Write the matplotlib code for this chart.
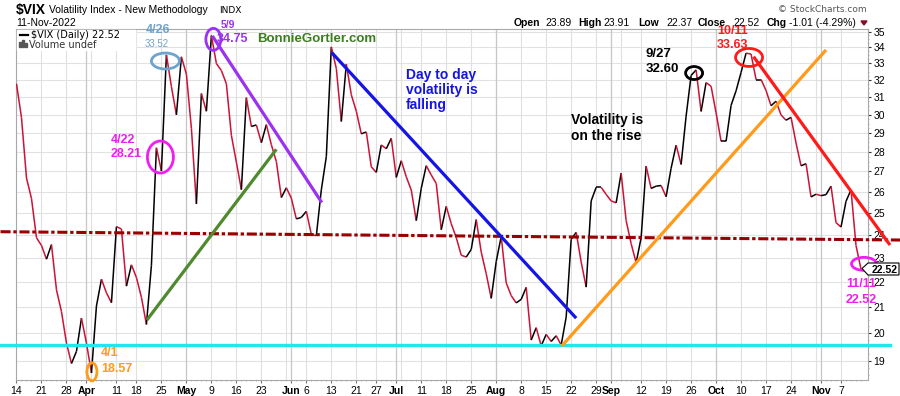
import numpy as np
import pandas as pd
import matplotlib
matplotlib.use("Agg")
import matplotlib.pyplot as plt
from matplotlib.collections import LineCollection
from matplotlib.patches import Ellipse, Rectangle, Polygon
from matplotlib.ticker import FixedLocator, NullFormatter
from matplotlib.transforms import IdentityTransform

W, H = 900, 396

HOLIDAYS = ["2022-04-15", "2022-05-30", "2022-06-20", "2022-07-04", "2022-09-05"]
days = pd.bdate_range("2022-03-14", "2022-11-11")
days = days[~days.isin(pd.to_datetime(HOLIDAYS))]

# daily closes (Mar 14 .. Nov 11 2022)
close = [
    31.77, 29.83, 26.67, 25.67, 23.87,
    23.53, 22.94, 23.57, 21.67, 20.81,
    19.63, 18.90, 19.33, 20.56, 19.63,
    18.57, 21.03, 22.10, 21.55, 21.16,
    24.37, 24.26, 21.82, 22.70,
    22.17, 21.37, 20.32, 22.68, 28.21,
    27.02, 33.52, 31.60, 29.99, 33.40,
    32.34, 29.25, 25.42, 31.20, 30.19,
    34.75, 32.99, 32.56, 31.77, 28.87,
    27.47, 26.10, 30.96, 29.35, 29.43,
    28.48, 29.45, 28.37, 27.50, 25.72,
    26.19, 25.69, 24.72, 24.79,
    25.07, 24.02, 23.96, 26.09, 27.75,
    34.02, 32.69, 29.62, 32.95, 31.13,
    30.19, 28.95, 29.05, 27.23,
    26.95, 28.36, 28.16, 28.71, 26.70,
    27.54, 26.73, 26.08, 24.64,
    26.17, 27.29, 26.82, 26.40, 24.23,
    25.30, 24.50, 23.88, 23.11, 23.03,
    23.36, 24.69, 23.24, 22.33, 21.33,
    22.84, 23.93, 21.95, 21.44, 21.15,
    21.29, 21.77, 19.74, 20.20, 19.53,
    19.95, 19.69, 19.90, 19.56, 20.60,
    23.80, 24.11, 22.82, 21.78, 25.56,
    26.21, 26.21, 25.87, 25.56, 25.47,
    26.91, 24.64, 23.61, 22.79,
    23.87, 27.27, 26.16, 26.27, 26.30,
    25.76, 27.16, 28.35, 27.35, 29.92,
    32.26, 32.60, 30.18, 31.84, 31.62,
    30.10, 28.55, 28.55, 30.52, 31.36,
    32.45, 33.63, 33.57, 32.02, 32.02,
    31.37, 30.50, 30.76, 29.98, 29.69,
    29.85, 28.46, 27.28, 27.39, 25.75,
    25.88, 25.81, 25.86, 26.27, 24.55,
    24.35, 25.54, 26.09, 23.53, 22.52,
]

tick_dates = ["2022-03-14", "2022-03-21", "2022-03-28", "2022-04-01", "2022-04-11",
              "2022-04-18", "2022-04-25", "2022-05-02", "2022-05-09", "2022-05-16",
              "2022-05-23", "2022-06-01", "2022-06-06", "2022-06-13", "2022-06-21",
              "2022-06-27", "2022-07-01", "2022-07-11", "2022-07-18", "2022-07-25",
              "2022-08-01", "2022-08-08", "2022-08-15", "2022-08-22", "2022-08-29",
              "2022-09-01", "2022-09-12", "2022-09-19", "2022-09-26", "2022-10-03",
              "2022-10-10", "2022-10-17", "2022-10-24", "2022-11-01", "2022-11-07"]
tick_labels = ["14", "21", "28", "Apr", "11", "18", "25", "May", "9", "16", "23",
               "Jun", "6", "13", "21", "27", "Jul", "11", "18", "25", "Aug", "8",
               "15", "22", "29", "Sep", "12", "19", "26", "Oct", "10", "17", "24",
               "Nov", "7"]
y_ticks = list(range(19, 36))

# trend lines: (start idx, start value, end idx, end value, colour)
trends = {
    "green":  (26.1, 20.49, 52.0, 28.13, "#4f8a2f"),
    "purple": (39.2, 34.72, 61.1, 25.48, "#9a32f0"),
    "blue":   (63.1, 33.66, 112.0, 20.56, "#1414e6"),
    "orange": (109.1, 19.52, 162.0, 33.83, "#ff9a1a"),
    "red":    (147.5, 33.41, 174.8, 23.55, "#ff1a1a"),
}
support = 19.56
resist = (24.14, 23.77)

# circled points: idx, value, width px, height px, colour
circles = [
    (29.8, 33.14, 28, 16, "#6fa3cf"),
    (28.8, 27.73, 26, 32, "#f01ef0"),
    (39.4, 34.50, 15, 22, "#9a32f0"),
    (135.6, 32.41, 17, 13, "black"),
    (146.6, 33.36, 27, 18, "#ff1a1a"),
    (169.6, 22.74, 25, 13, "#f01ef0"),
    (15.1, 18.61, 10, 18, "#ff9a1a"),
]

idx = np.arange(len(close))
date_idx = {d.strftime("%Y-%m-%d"): i for i, d in enumerate(days)}
close = np.array(close)


def fx(x):
    return x / W


def fy(y):
    return 1 - y / H


fig = plt.figure(figsize=(W / 100, H / 100), dpi=100)
fig.patch.set_facecolor("white")
ax = fig.add_axes([fx(16), fy(380), (868 - 16) / W, (380 - 29) / H])
ax.set_yscale("log")
ax.set_xlim(-0.1, 170.4)
ax.set_ylim(18.33, 35.17)

# grid
for v in y_ticks:
    ax.axhline(v, color="#e2e2e2", lw=0.8, zorder=0)
week_start = [i for i in range(len(days)) if i == 0 or days[i].weekday() <= days[i - 1].weekday()]
month_start = [i for i in range(1, len(days)) if days[i].month != days[i - 1].month]
for i in week_start:
    ax.axvline(i, color="#e0e0e0", lw=0.8, zorder=0)
for i in month_start:
    ax.axvline(i, color="#c6c6c6", lw=0.9, zorder=0)

for s in ax.spines.values():
    s.set_color("#a8a8a8")
    s.set_linewidth(0.8)

# price line, black up / red down
pts = np.column_stack([idx, close])
segs = [pts[i:i + 2] for i in range(len(pts) - 1)]
cols = ["black" if close[i + 1] >= close[i] else "#cc1236" for i in range(len(close) - 1)]
ax.add_collection(LineCollection(segs, colors=cols, linewidths=1.1, zorder=3))

# horizontal levels
ax.plot([-3.2, 174.8], [support, support], color="#22e5ee", lw=2.4, zorder=4, clip_on=False)
ax.plot([-3.2, 176.8], list(resist), color="#990000", lw=2.2, zorder=4, clip_on=False,
        dashes=(3.3, 0.9, 1.1, 0.9))

for x0, y0, x1, y1, c in trends.values():
    ax.plot([x0, x1], [y0, y1], color=c, lw=2.3, zorder=5, clip_on=False,
            solid_capstyle="butt")

# ticks
ax.yaxis.tick_right()
ax.yaxis.set_major_locator(FixedLocator(y_ticks))
ax.yaxis.set_minor_locator(FixedLocator(np.arange(18.5, 35.2, 0.25)))
ax.yaxis.set_minor_formatter(NullFormatter())
ax.set_yticklabels([str(v) for v in y_ticks])
ax.tick_params(axis="y", which="major", length=2, pad=2, labelsize=7.5, colors="#333333",
               labelcolor="black")
ax.tick_params(axis="y", which="minor", length=1, colors="#999999")

xt = [date_idx[d] for d in tick_dates]
ax.set_xticks(xt)
ax.set_xticklabels(tick_labels)
ax.xaxis.set_minor_locator(FixedLocator(idx))
ax.tick_params(axis="x", which="major", length=2, pad=2, labelsize=7.5, colors="#777777",
               labelcolor="black")
ax.tick_params(axis="x", which="minor", length=1, colors="#aaaaaa")
for lab in ax.get_xticklabels() + ax.get_yticklabels():
    lab.set_family("Liberation Sans")
for lab in ax.get_xticklabels():
    if lab.get_text().isalpha():
        lab.set_fontweight("bold")

# circles, sized in pixels
for i, v, w, h, c in circles:
    cx, cy = ax.transData.transform((i, v))
    fig.add_artist(Ellipse((cx, cy), w, h, transform=IdentityTransform(), fill=False,
                           edgecolor=c, lw=2.0, zorder=6))

AF = "Liberation Sans"


def note(x, y, s, c, size=9, ha="left", weight="bold", family=AF, z=7):
    fig.text(fx(x), fy(y), s, color=c, fontsize=size, ha=ha, va="baseline",
             fontweight=weight, family=family, zorder=z)


note(158, 33, "4/26", "#6fa3cf", size=9, ha="center")
note(157, 47, "33.52", "#6fa3cf", size=7, ha="center", weight="normal")
note(228, 28, "5/9", "#9a32f0", size=7.5, ha="center")
note(217, 42, "34.75", "#9a32f0", size=9)
note(257, 42, "BonnieGortler.com", "#3b7d1f", size=9.5)
note(111, 143, "4/22", "#f01ef0")
note(111, 157, "28.21", "#f01ef0")
note(406, 79, "Day to day", "#1414e6", size=10)
note(406, 94, "volatility is", "#1414e6", size=10)
note(406, 109, "falling", "#1414e6", size=10)
note(571, 124, "Volatility is", "black", size=10)
note(571, 140, "on the rise", "black", size=10)
note(646, 57, "9/27", "black", size=9.5)
note(646, 72, "32.60", "black", size=9.5)
note(717, 33.5, "10/11", "#ff1a1a", size=9)
note(717, 47.5, "33.63", "#ff1a1a", size=9)
note(846, 287, "11/11", "#f01ef0")
note(846, 303, "22.52", "#f01ef0")
note(101, 356, "4/1", "#ff9a1a")
note(101, 372, "18.57", "#ff9a1a")

# header
note(16, 14, "$VIX", "black", size=10)
note(49, 13, "Volatility Index - New Methodology", "black", size=7.5, weight="normal")
note(219, 13, "INDX", "black", size=6.5, weight="normal", family="DejaVu Sans")
note(16, 26, "11-Nov-2022", "black", size=7.5, weight="normal")
note(867, 12, "\u00a9 StockCharts.com", "#555555", size=6.5, ha="right", weight="normal",
     family="DejaVu Sans")
hdr = [(514, "Open", "bold"), (545.7, "23.89", "normal"), (578.3, "High", "bold"),
       (603, "23.91", "normal"), (638, "Low", "bold"), (666, "22.37", "normal"),
       (698, "Close", "bold"), (733, "22.52", "normal"), (766.7, "Chg", "bold"),
       (789, "-1.01 (-4.29%)", "normal")]
for x, s, wt in hdr:
    note(x, 26, s, "black", size=7.5, weight=wt)
fig.add_artist(Polygon([[fx(861), fy(21)], [fx(867), fy(21)], [fx(864), fy(25)]],
                       closed=True, color="#8b0a2a", transform=fig.transFigure))

# legend block
fig.add_artist(Rectangle((fx(17), fy(50)), (135 - 17) / W, (50 - 30) / H,
                         transform=fig.transFigure, color="white", zorder=6))
fig.add_artist(plt.Line2D([fx(20), fx(28)], [fy(35), fy(35)], color="black", lw=1.6,
                          transform=fig.transFigure, zorder=7))
note(31, 38.5, "$VIX (Daily) 22.52", "black", size=7, weight="normal", family="DejaVu Sans")
for k, hh in enumerate([5, 7, 4]):
    fig.add_artist(Rectangle((fx(19 + k * 3), fy(47)), 2 / W, hh / H,
                             transform=fig.transFigure, color="#555555", zorder=7))
note(29, 48, "Volume undef", "#333333", size=7, weight="normal", family="DejaVu Sans")

# last price box
fig.add_artist(Polygon([[fx(862), fy(268.5)], [fx(868), fy(263)], [fx(899), fy(263)],
                        [fx(899), fy(275)], [fx(868), fy(275)]], closed=True,
                       facecolor="white", edgecolor="black", lw=0.8,
                       transform=fig.transFigure, zorder=8))
note(872, 273, "22.52", "black", size=7.5, z=9)

fig.savefig("out.png", dpi=100)
